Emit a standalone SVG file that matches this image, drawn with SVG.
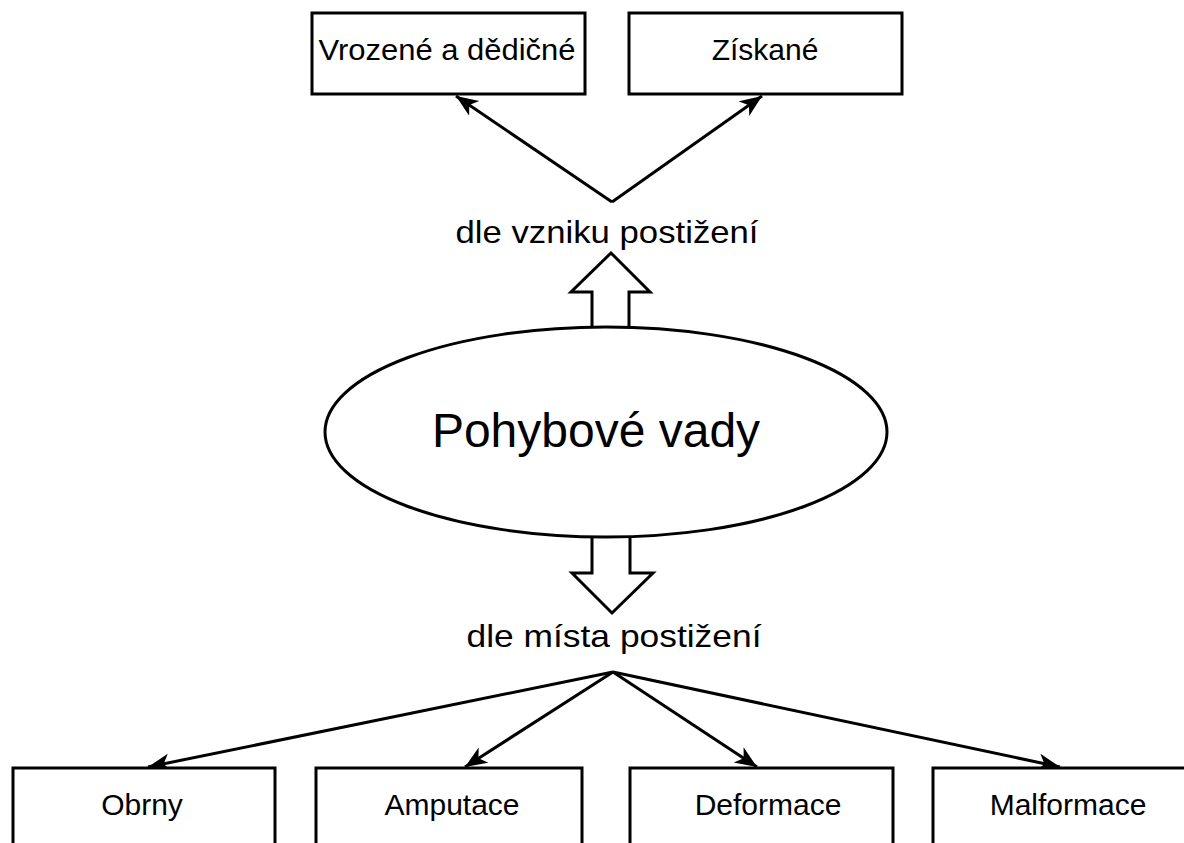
<svg xmlns="http://www.w3.org/2000/svg" width="1184" height="843" viewBox="0 0 1184 843">
<style>
.box{fill:#fff;stroke:#000;stroke-width:3}
.t{font-family:"Liberation Sans",Arial,sans-serif;fill:#000;text-anchor:middle}
.c{stroke:#000;stroke-width:3;fill:none;marker-end:url(#ah)}
.blk{fill:#fff;stroke:#000;stroke-width:3;stroke-linejoin:miter}
</style>
<defs>
<marker id="ah" markerUnits="userSpaceOnUse" markerWidth="24" markerHeight="20" refX="22" refY="9" orient="auto">
<path d="M0,0 L22,9 L0,18 L6,9 z" fill="#000"/>
</marker>
</defs>
<rect width="1184" height="843" fill="#fff"/>
<g id="connectors">
<path class="c" d="M612,202 L456,96"/>
<path class="c" d="M612,202 L762,96"/>
<path class="c" d="M613,672 L148,767"/>
<path class="c" d="M613,672 L465,767"/>
<path class="c" d="M613,672 L757,767"/>
<path class="c" d="M613,672 L1060,767"/>
<path class="blk" d="M592,328 L592,292 L571,292 L611,253 L650,292 L629,292 L629,328"/>
<path class="blk" d="M592,536 L592,573 L572,573 L612,613 L653,573 L630,573 L630,536"/>
</g>
<g id="vrozene">
<rect class="box" x="312" y="13" width="273" height="81"/>
<text class="t" x="447" y="60" font-size="30" textLength="257" lengthAdjust="spacingAndGlyphs">Vrozené a dědičné</text>
</g>
<g id="ziskane">
<rect class="box" x="629" y="13" width="273" height="81"/>
<text class="t" x="765" y="60" font-size="30">Získané</text>
</g>
<g id="vznik">
<text class="t" x="607" y="243" font-size="32" textLength="303" lengthAdjust="spacingAndGlyphs">dle vzniku postižení</text>
</g>
<g id="pohybove">
<ellipse class="box" cx="606" cy="432" rx="281" ry="105"/>
<text class="t" x="596" y="447" font-size="48">Pohybové vady</text>
</g>
<g id="misto">
<text class="t" x="614" y="647" font-size="32" textLength="295" lengthAdjust="spacingAndGlyphs">dle místa postižení</text>
</g>
<g id="obrny">
<rect class="box" x="13" y="768" width="262" height="100"/>
<text class="t" x="142" y="815" font-size="30">Obrny</text>
</g>
<g id="amputace">
<rect class="box" x="316" y="768" width="266" height="100"/>
<text class="t" x="452" y="815" font-size="30">Amputace</text>
</g>
<g id="deformace">
<rect class="box" x="630" y="768" width="263" height="100"/>
<text class="t" x="768" y="815" font-size="30">Deformace</text>
</g>
<g id="malformace">
<rect class="box" x="933" y="768" width="263" height="100"/>
<text class="t" x="1068" y="815" font-size="30">Malformace</text>
</g>
</svg>
